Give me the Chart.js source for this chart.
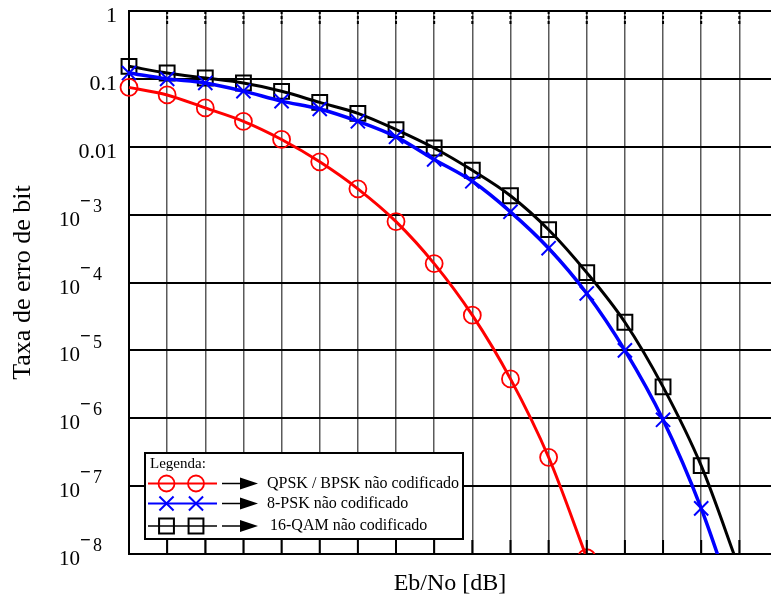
<!DOCTYPE html>
<html>
<head>
<meta charset="utf-8">
<script src="https://cdn.jsdelivr.net/npm/chart.js@4/dist/chart.umd.min.js"></script>
<style>
  html, body { margin: 0; padding: 0; background: #fff; }
  canvas { display: block; }
</style>
</head>
<body>
<canvas id="ber" width="771" height="603"></canvas>
<script>
// valores (Eb/No em dB)
const ebno = [0, 1, 2, 3, 4, 5, 6, 7, 8, 9, 10, 11, 12, 13, 14, 15, 16];
const qpsk = [0.075, 0.058, 0.0373, 0.0237, 0.0128, 0.006, 0.0024, 7.9e-4, 1.9e-4, 3.3e-5, 3.8e-6, 2.66e-7, 8.8e-9];
const psk8 = [0.122, 0.100, 0.087, 0.066, 0.047, 0.036, 0.0237, 0.014, 0.0065, 0.0031, 1.1e-3, 3.2e-4, 6.9e-5, 1.0e-5, 9.5e-7, 4.7e-8, 1.1e-9];
const qam16 = [0.153, 0.122, 0.103, 0.087, 0.0656, 0.045, 0.031, 0.0179, 0.0096, 0.0045, 0.0019, 6.0e-4, 1.4e-4, 2.6e-5, 2.9e-6, 2.0e-7, 6e-9];
const yTicks = [1, 0.1, 0.01, 1e-3, 1e-4, 1e-5, 1e-6, 1e-7, 1e-8];
const xTicks = [0, 1, 2, 3, 4, 5, 6, 7, 8, 9, 10, 11, 12, 13, 14, 15, 16];
const labels = ['QPSK / BPSK não codificado', '8-PSK não codificado', '16-QAM não codificado'];

const SERIF = "'Liberation Serif', 'DejaVu Serif', serif";
const xy = (ys) => ys.map((v, i) => ({ x: ebno[i], y: v }));

// rótulos do eixo y (1, 0.1, 0.01, 10^-n)
const yLabels = {
  id: 'yLabels',
  afterDraw(chart) {
    const { ctx } = chart;
    const s = chart.scales.y;
    ctx.save();
    ctx.beginPath();
    ctx.rect(0, 0, chart.width, 565);
    ctx.clip();
    ctx.fillStyle = '#000';
    ctx.textBaseline = 'middle';
    s.ticks.forEach(t => {
      const y = s.getPixelForValue(t.value);
      const e = Math.round(Math.log10(t.value));
      if (e >= -2) {
        ctx.font = '22px ' + SERIF;
        ctx.textAlign = 'right';
        ctx.fillText(String(t.value), 117, y + 5);
      } else {
        ctx.font = '21px ' + SERIF;
        ctx.textAlign = 'right';
        ctx.fillText('10', 80, y + 5.5);
        ctx.textAlign = 'left';
        ctx.font = 'bold 19px ' + SERIF;
        ctx.fillText('\u2212', 80, y - 13);
        ctx.font = '18px ' + SERIF;
        ctx.fillText(String(-e), 93, y - 7.5);
      }
    });
    ctx.restore();
  }
};

// marcas internas no topo e em baixo
const innerTicks = {
  id: 'innerTicks',
  afterDatasetsDraw(chart) {
    const { ctx, chartArea } = chart;
    const s = chart.scales.x;
    ctx.save();
    ctx.strokeStyle = '#000';
    ctx.lineWidth = 2;
    xTicks.slice(1).forEach(v => {
      const x = s.getPixelForValue(v);
      ctx.setLineDash([]);
      ctx.beginPath();
      ctx.moveTo(x, chartArea.bottom);
      ctx.lineTo(x, chartArea.bottom - 14);
      ctx.stroke();
      ctx.setLineDash([3, 2]);
      ctx.beginPath();
      ctx.moveTo(x, chartArea.top);
      ctx.lineTo(x, chartArea.top + 13);
      ctx.stroke();
    });
    ctx.restore();
  }
};

// caixa de legenda
const legendBox = {
  id: 'legendBox',
  afterDraw(chart) {
    const { ctx } = chart;
    const bx = 145, by = 453, bw = 318, bh = 86;
    ctx.save();
    ctx.fillStyle = '#fff';
    ctx.fillRect(bx, by, bw, bh);
    ctx.strokeStyle = '#000';
    ctx.lineWidth = 2;
    ctx.strokeRect(bx, by, bw, bh);
    ctx.fillStyle = '#000';
    ctx.font = '15px ' + SERIF;
    ctx.textBaseline = 'middle';
    ctx.textAlign = 'left';
    ctx.fillText('Legenda:', 150, 464);
    const rows = [483.5, 503.5, 526];
    chart.data.datasets.forEach((ds, i) => {
      const y = rows[i];
      ctx.strokeStyle = ds.borderColor;
      ctx.lineWidth = i === 2 ? 1.5 : 2;
      ctx.beginPath();
      ctx.moveTo(148, y);
      ctx.lineTo(217, y);
      ctx.stroke();
      [166.5, 196].forEach(px => {
        ctx.fillStyle = 'rgba(0,0,0,0)';
        ctx.strokeStyle = ds.pointBorderColor;
        ctx.lineWidth = ds.pointBorderWidth;
        Chart.helpers.drawPoint(ctx, { pointStyle: ds.pointStyle, radius: ds.legendRadius, borderWidth: ds.pointBorderWidth, rotation: 0 }, px, y);
      });
      // seta
      ctx.strokeStyle = '#000';
      ctx.fillStyle = '#000';
      ctx.lineWidth = 1.5;
      ctx.beginPath();
      ctx.moveTo(222, y);
      ctx.lineTo(242, y);
      ctx.stroke();
      ctx.beginPath();
      ctx.moveTo(240, y - 6);
      ctx.lineTo(258, y);
      ctx.lineTo(240, y + 6);
      ctx.closePath();
      ctx.fill();
      ctx.font = '16px ' + SERIF;
      ctx.fillText(ds.label, i === 2 ? 270 : 267, y);
    });
    ctx.restore();
  }
};

new Chart(document.getElementById('ber'), {
  type: 'line',
  data: {
    datasets: [{
      label: labels[0],
      data: xy(qpsk),
      borderColor: '#ff0000',
      borderWidth: 3,
      pointStyle: 'circle',
      pointRadius: 8.5,
      legendRadius: 8,
      pointBorderWidth: 1.8,
      pointBorderColor: '#ff0000',
      pointBackgroundColor: 'rgba(0,0,0,0)',
      cubicInterpolationMode: 'monotone',
      clip: { left: 12, top: 12, right: 0, bottom: 0 }
    }, {
      label: labels[1],
      data: xy(psk8),
      borderColor: '#0000ff',
      borderWidth: 3.5,
      pointStyle: 'crossRot',
      pointRadius: 10,
      legendRadius: 10,
      pointBorderWidth: 2,
      pointBorderColor: '#0000ff',
      pointBackgroundColor: 'rgba(0,0,0,0)',
      cubicInterpolationMode: 'monotone',
      clip: { left: 12, top: 12, right: 0, bottom: 0 }
    }, {
      label: labels[2],
      data: xy(qam16),
      borderColor: '#000000',
      borderWidth: 3,
      pointStyle: 'rect',
      pointRadius: 10.5,
      legendRadius: 10.5,
      pointBorderWidth: 2,
      pointBorderColor: '#000000',
      pointBackgroundColor: 'rgba(0,0,0,0)',
      cubicInterpolationMode: 'monotone',
      clip: { left: 12, top: 12, right: 0, bottom: 0 }
    }]
  },
  options: {
    responsive: false,
    animation: false,
    events: [],
    layout: { autoPadding: false, padding: { top: 11, right: 0, left: 0, bottom: 0 } },
    plugins: { legend: { display: false }, tooltip: { enabled: false } },
    scales: {
      x: {
        type: 'linear',
        min: 0,
        max: 16.83,
        afterBuildTicks: s => { s.ticks = xTicks.map(v => ({ value: v })); },
        afterFit: s => { s.height = 49; s.paddingLeft = 0; s.paddingRight = 0; },
        ticks: { display: false },
        grid: { color: '#5a5a5a', lineWidth: 1.5, drawTicks: false },
        border: { color: '#000', width: 2 },
        title: { display: true, text: 'Eb/No [dB]', color: '#000', font: { family: SERIF, size: 24 }, padding: { top: 0, bottom: 5 } }
      },
      y: {
        type: 'logarithmic',
        min: 1e-8,
        max: 1,
        afterBuildTicks: s => { s.ticks = yTicks.map(v => ({ value: v })); },
        afterFit: s => { s.width = 129; s.paddingTop = 0; s.paddingBottom = 0; },
        ticks: { display: false },
        grid: { color: '#000', lineWidth: 2, drawTicks: false },
        border: { color: '#000', width: 2 },
        title: { display: true, text: 'Taxa de erro de bit', color: '#000', font: { family: SERIF, size: 26 }, padding: { top: 8, bottom: 0 } }
      }
    }
  },
  plugins: [innerTicks, yLabels, legendBox]
});
</script>
</body>
</html>
